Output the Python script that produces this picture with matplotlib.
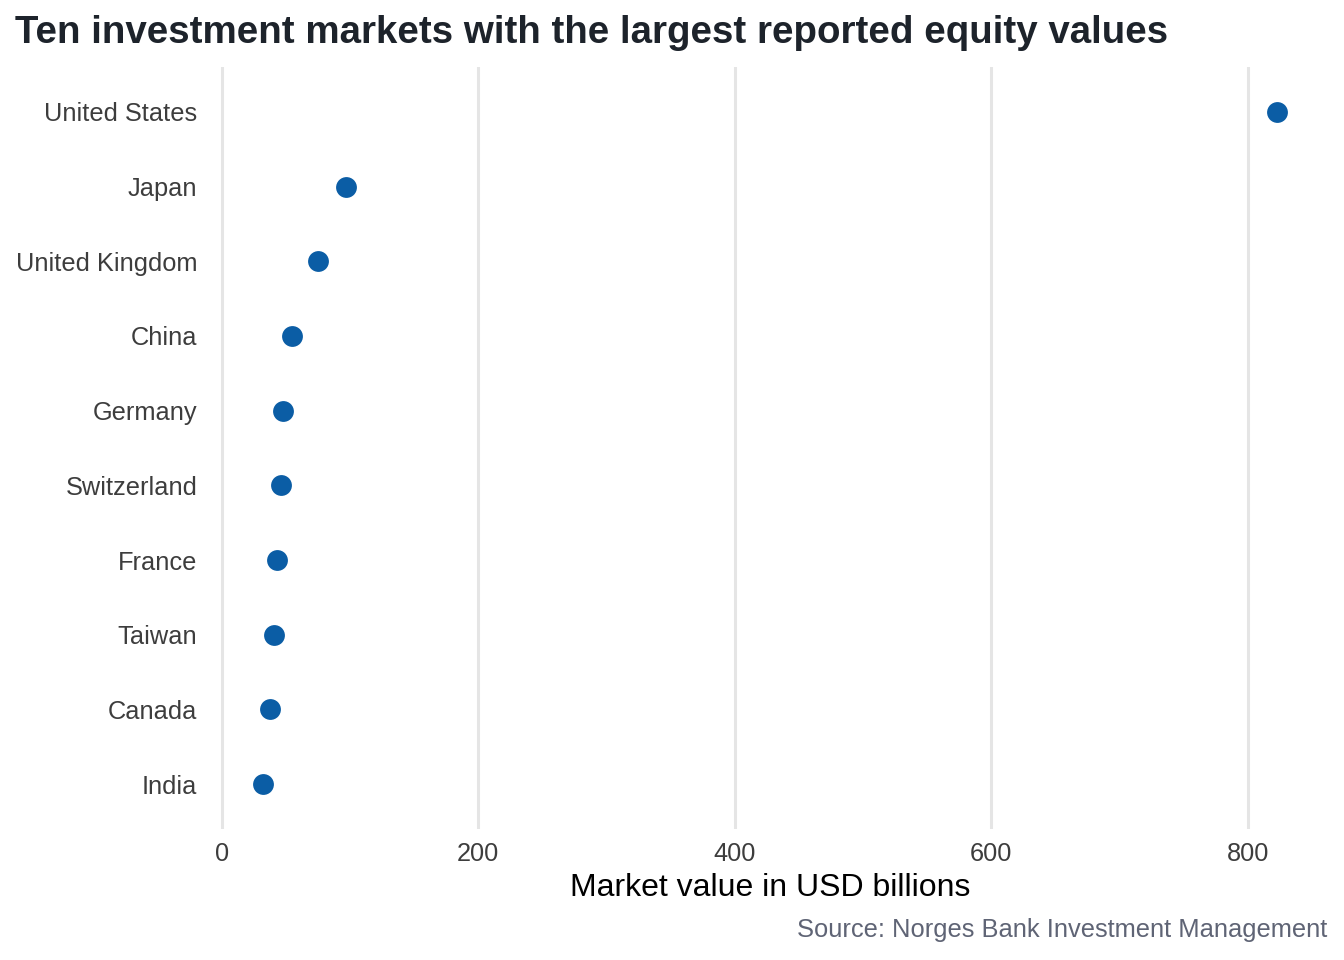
import numpy as np
import matplotlib
matplotlib.use("Agg")
import matplotlib.pyplot as plt

plt.rcParams['font.family'] = ['Liberation Sans', 'DejaVu Sans']

# datos (miles de millones USD)
paises = ["United States", "Japan", "United Kingdom", "China", "Germany",
          "Switzerland", "France", "Taiwan", "Canada", "India"]
valores = [823, 97, 75, 55, 48, 46, 43, 41, 38, 32]
ticks_x = [0, 200, 400, 600, 800]

fig = plt.figure(figsize=(13.44, 9.6), dpi=100)
ax = fig.add_axes([0.1577, 0.1365, 0.8304, 0.7937])

pos = np.arange(len(paises))
ax.scatter(valores, pos, s=225, color='#0b5da5', zorder=3, linewidths=0)

ax.set_xlim(-7.5, 862.5)
ax.set_ylim(len(paises) - 1 + 0.6, -0.6)
ax.set_xticks(ticks_x)
ax.set_xticklabels([str(t) for t in ticks_x])
ax.set_yticks(pos)
ax.set_yticklabels(paises)

# solo rejilla vertical
ax.grid(axis='x', color='#e5e5e5', linewidth=2.2, zorder=0)
ax.grid(axis='y', visible=False)
for s in ax.spines.values():
    s.set_visible(False)
ax.tick_params(axis='both', length=0, labelsize=18.3, labelcolor='#3d3d3d')
ax.tick_params(axis='y', pad=10.5)
ax.tick_params(axis='x', pad=9.5)

ax.set_xlabel("Market value in USD billions", fontsize=23, color='black', labelpad=5)

fig.text(15 / 1344, 1 - 33 / 960, "Ten investment markets with the largest reported equity values",
         fontsize=27.7, fontweight='bold', color='#1d232b', ha='left', va='center')
fig.text(1327 / 1344, 1 - 930 / 960, "Source: Norges Bank Investment Management",
         fontsize=18.4, color='#5f6475', ha='right', va='center')

fig.savefig("out.png", dpi=100)
